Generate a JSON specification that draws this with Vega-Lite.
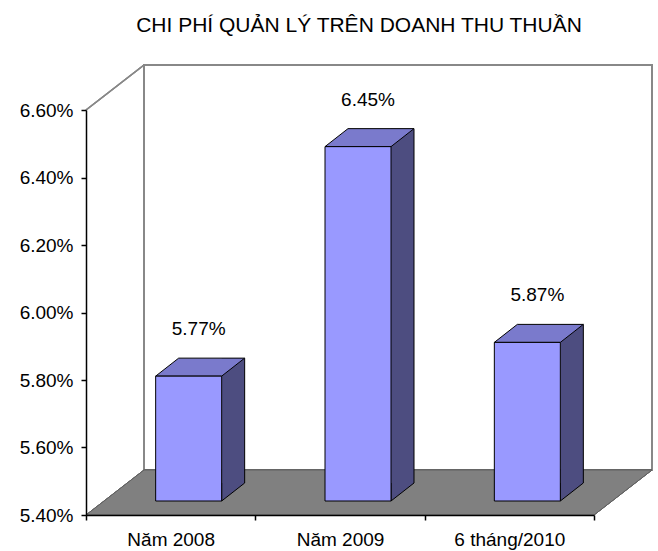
{
  "$schema": "https://vega.github.io/schema/vega-lite/v6.json",
  "width": 508,
  "height": 405,
  "autosize": {"type": "none"},
  "padding": {"left": 86, "top": 110, "right": 64, "bottom": 36},
  "background": "white",
  "config": {"view": {"stroke": null}, "font": "Liberation Sans"},
  "title": {
    "text": "CHI PHÍ QUẢN LÝ TRÊN DOANH THU THUẦN",
    "font": "Liberation Sans",
    "fontSize": 21,
    "fontWeight": "normal",
    "color": "black",
    "anchor": "middle",
    "baseline": "alphabetic",
    "dx": 19,
    "offset": 8
  },
  "data": {
    "values": [
      {"period": "Năm 2008", "ratio": 0.0577},
      {"period": "Năm 2009", "ratio": 0.0645},
      {"period": "6 tháng/2010", "ratio": 0.0587}
    ]
  },
  "encoding": {
    "x": {
      "field": "period",
      "type": "nominal",
      "sort": null,
      "scale": {"paddingInner": 0, "paddingOuter": 0},
      "axis": {
        "title": null,
        "labelAngle": 0,
        "labelFont": "Liberation Sans",
        "labelFontSize": 19,
        "labelColor": "black",
        "domainColor": "black",
        "domainWidth": 1.5,
        "tickColor": "black",
        "tickWidth": 1.5,
        "tickSize": 5,
        "tickBand": "extent",
        "labelPadding": 10,
        "zindex": 1
      }
    },
    "y": {
      "field": "ratio",
      "type": "quantitative",
      "scale": {"domain": [0.054, 0.066], "nice": false, "zero": false},
      "axis": {
        "title": null,
        "values": [0.054, 0.056, 0.058, 0.06, 0.062, 0.064, 0.066],
        "format": ".2%",
        "grid": false,
        "labelFont": "Liberation Sans",
        "labelFontSize": 19,
        "labelColor": "black",
        "domainColor": "black",
        "domainWidth": 1.5,
        "tickColor": "black",
        "tickWidth": 1.5,
        "tickSize": 5,
        "labelPadding": 8,
        "zindex": 1
      }
    }
  },
  "layer": [
    {
      "mark": {"type": "point", "shape": "M58,-45 L566,-45 L566,360 L58,360 Z", "size": 4, "filled": true, "fill": "white", "stroke": "#888888", "strokeWidth": 2, "opacity": 1},
      "encoding": {
        "x": {"datum": "Năm 2008", "bandPosition": 0},
        "y": {"datum": 0.066}
      }
    },
    {
      "mark": {"type": "point", "shape": "M0,0 L58,-45", "size": 4, "filled": false, "stroke": "#888888", "strokeWidth": 1.5, "opacity": 1},
      "encoding": {
        "x": {"datum": "Năm 2008", "bandPosition": 0},
        "y": {"datum": 0.066}
      }
    },
    {
      "mark": {"type": "point", "shape": "M0,0 L508,0 L566,-45 L58,-45 Z", "size": 4, "filled": true, "fill": "#808080", "stroke": "#606060", "strokeWidth": 1, "opacity": 1},
      "encoding": {
        "x": {"datum": "Năm 2008", "bandPosition": 0},
        "y": {"datum": 0.054}
      }
    },
    {
      "mark": {"type": "bar", "width": 23, "xOffset": 62.5, "yOffset": -32, "y2Offset": -32, "fill": "#4d4d80", "strokeWidth": 0},
      "encoding": {
        "y2": {"datum": 0.054}
      }
    },
    {
      "mark": {"type": "point", "shape": "M23,-18 L0,0 L0,-18", "size": 4, "filled": true, "fill": "#4d4d80", "stroke": "black", "strokeWidth": 1, "opacity": 1, "xOffset": 51, "yOffset": -14},
      "encoding": {
        "y": {"datum": 0.054}
      }
    },
    {
      "mark": {"type": "rule", "color": "black", "strokeWidth": 1, "xOffset": 74, "yOffset": -32, "y2Offset": -32},
      "encoding": {
        "y2": {"datum": 0.054}
      }
    },
    {
      "mark": {"type": "point", "shape": "M0,0 L66,0 L89,-18 L23,-18 Z", "size": 4, "filled": true, "fill": "#7a7acc", "stroke": "black", "strokeWidth": 1, "opacity": 1, "xOffset": -15, "yOffset": -14},
      "encoding": {}
    },
    {
      "mark": {"type": "bar", "width": 66, "xOffset": 18, "yOffset": -14, "y2Offset": -14, "fill": "#9999ff", "stroke": "black", "strokeWidth": 1},
      "encoding": {
        "y2": {"datum": 0.054}
      }
    },
    {
      "mark": {"type": "text", "font": "Liberation Sans", "fontSize": 19, "color": "black", "align": "center", "baseline": "middle", "xOffset": 28, "yOffset": -61},
      "encoding": {
        "text": {"field": "ratio", "type": "quantitative", "format": ".2%"}
      }
    }
  ]
}
